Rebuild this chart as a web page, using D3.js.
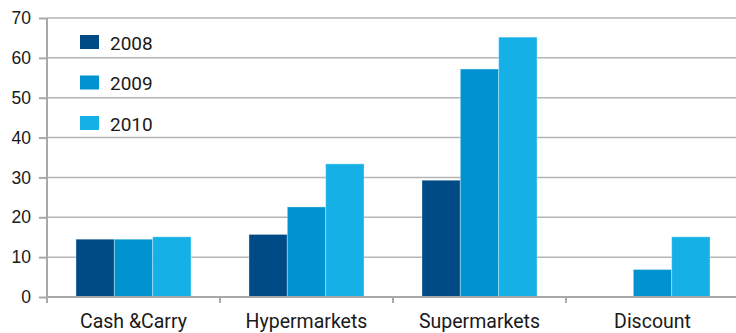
<!DOCTYPE html>
<html>
<head>
<meta charset="utf-8">
<script src="https://cdn.jsdelivr.net/npm/d3@7"></script>
<style>
  body { margin: 0; background: #fff; }
  svg { display: block; font-family: Roboto, "Liberation Sans", sans-serif; }
</style>
</head>
<body>
<div id="chart"></div>
<script>
const categories = ["Cash &Carry", "Hypermarkets", "Supermarkets", "Discount"];
const years = ["2008", "2009", "2010"];
const values2008 = [14.5, 15.7, 29.3, 0];
const values2009 = [14.5, 22.6, 57.2, 6.9];
const values2010 = [15.1, 33.4, 65.2, 15.1];
const yTicks = [0, 10, 20, 30, 40, 50, 60, 70];

const colors = ["#004a86", "#0093cf", "#15b0e5"];
const series = [values2008, values2009, values2010];

const width = 736, height = 333;
const margin = { top: 18, right: -3, bottom: 36, left: 47 };

const svg = d3.select("#chart").append("svg")
    .attr("width", width)
    .attr("height", height);

const x = d3.scaleBand()
    .domain(categories)
    .range([margin.left, width - margin.right])
    .paddingInner(0.335)
    .paddingOuter(0.1675);

const xEdge = d3.scaleBand()
    .domain(categories)
    .range([margin.left, width - margin.right]);

const xSub = d3.scaleBand()
    .domain(years)
    .range([0, x.bandwidth()]);

const y = d3.scaleLinear()
    .domain([0, 70])
    .range([height - margin.bottom, margin.top]);

// gridlines
svg.append("g")
    .selectAll("line")
    .data(yTicks.slice(1))
    .join("line")
    .attr("x1", margin.left)
    .attr("x2", width)
    .attr("y1", d => y(d))
    .attr("y2", d => y(d))
    .attr("stroke", "#b5b5b5")
    .attr("stroke-width", 1.5);

// bars
const rows = categories.map((c, i) => ({ c, vals: series.map(s => s[i]) }));
svg.append("g")
    .selectAll("g")
    .data(rows)
    .join("g")
    .attr("transform", d => `translate(${x(d.c)},0)`)
    .selectAll("rect")
    .data(d => d.vals.map((v, j) => ({ v, year: years[j], j })))
    .join("rect")
    .filter(d => d.v > 0)
    .attr("x", d => xSub(d.year))
    .attr("width", xSub.bandwidth())
    .attr("y", d => y(d.v))
    .attr("height", d => y(0) - y(d.v))
    .attr("fill", d => colors[d.j])
    .attr("stroke", "rgba(255,255,255,0.35)")
    .attr("stroke-width", 1);

// y axis
const yAxis = svg.append("g")
    .attr("transform", `translate(${margin.left},0)`)
    .call(d3.axisLeft(y).tickValues(yTicks).tickSize(8).tickPadding(8));
yAxis.select(".domain").remove();
yAxis.append("line")
    .attr("x1", 0).attr("x2", 0)
    .attr("y1", y(70)).attr("y2", y(0) + 6);
yAxis.selectAll("line").attr("stroke", "#a8a8a8").attr("stroke-width", 2);
yAxis.selectAll("text")
    .attr("fill", "#1a1a1a")
    .style("font-size", "17.5px");

// x axis
const xAxisG = svg.append("g");
xAxisG.append("line")
    .attr("x1", margin.left).attr("x2", width)
    .attr("y1", y(0)).attr("y2", y(0))
    .attr("stroke", "#a8a8a8").attr("stroke-width", 2);
xAxisG.selectAll(".tick")
    .data(categories.slice(1))
    .join("line")
    .attr("x1", d => xEdge(d)).attr("x2", d => xEdge(d))
    .attr("y1", y(0)).attr("y2", y(0) + 6)
    .attr("stroke", "#a8a8a8").attr("stroke-width", 2);
xAxisG.selectAll("text")
    .data(categories)
    .join("text")
    .attr("x", d => x(d) + x.bandwidth() / 2)
    .attr("y", y(0) + 31)
    .attr("text-anchor", "middle")
    .attr("fill", "#1a1a1a")
    .style("font-size", "19.5px")
    .text(d => d);

// legend
const legend = svg.append("g")
    .selectAll("g")
    .data(years)
    .join("g")
    .attr("transform", (d, i) => `translate(80,${35 + i * 40.5})`);
legend.append("rect")
    .attr("width", 19)
    .attr("height", 14)
    .attr("fill", (d, i) => colors[i]);
legend.append("text")
    .attr("x", 30)
    .attr("y", 14.5)
    .attr("fill", "#1a1a1a")
    .style("font-size", "19px")
    .text(d => d);
</script>
</body>
</html>
